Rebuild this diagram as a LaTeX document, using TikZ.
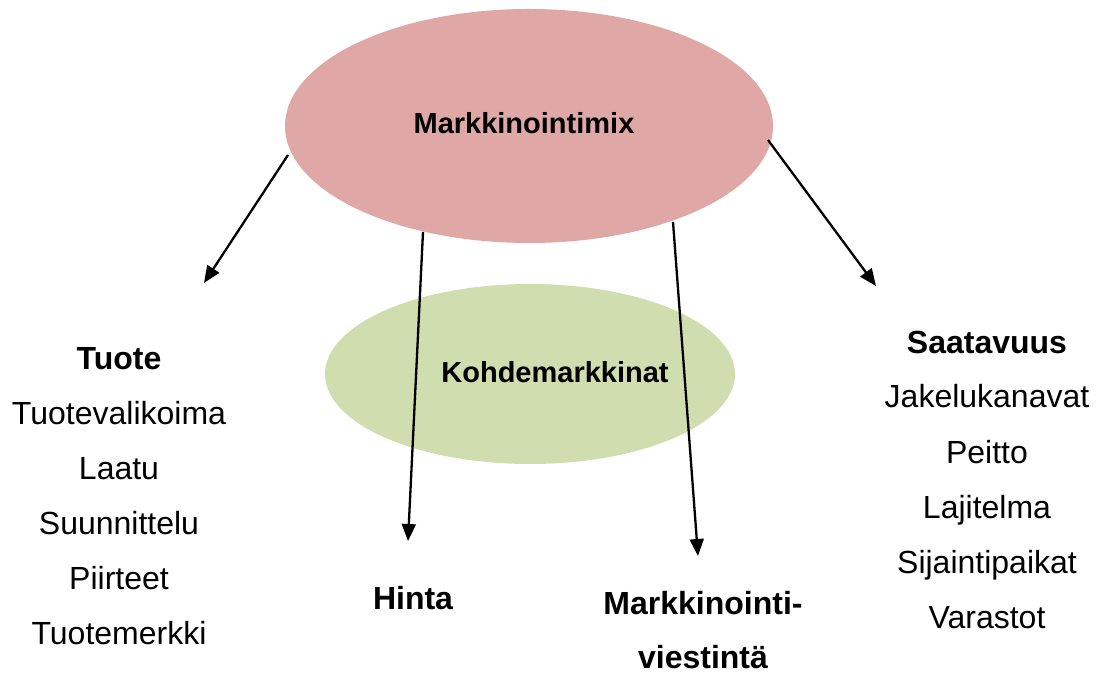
\documentclass[tikz,border=0pt]{standalone}
\usepackage{fontspec}
\setmainfont{Liberation Sans}
\usetikzlibrary{arrows.meta}
\definecolor{mixpink}{HTML}{DFA7A6}
\definecolor{targetgreen}{HTML}{CFDDAF}
\tikzset{
  lbl/.style={anchor=base, inner sep=0pt, font=\fontsize{16}{19}\selectfont},
  blbl/.style={lbl, font=\fontsize{16}{19}\selectfont\bfseries},
  elbl/.style={anchor=base, inner sep=0pt, font=\fontsize{14.5}{17}\selectfont\bfseries},
  arr/.style={line width=1.15pt, -{Triangle[length=8.5pt,width=7pt]}}
}
\begin{document}
\begin{tikzpicture}[x=0.5pt,y=-0.5pt]
\useasboundingbox (0,0) rectangle (1107,673);
% ellipses
\fill[mixpink] (529,126) ellipse [x radius=244*0.5pt, y radius=117*0.5pt];
\fill[targetgreen] (530,374) ellipse [x radius=205*0.5pt, y radius=90*0.5pt];
\node[elbl] (mix) at (524,134) {Markkinointimix};
\node[elbl] (kohde) at (555,382) {Kohdemarkkinat};
% left column
\node[blbl] (tuote) at (119,369) {Tuote};
\node[lbl] (t1) at (119,424) {Tuotevalikoima};
\node[lbl] (t2) at (119,479) {Laatu};
\node[lbl] (t3) at (119,534) {Suunnittelu};
\node[lbl] (t4) at (119,589) {Piirteet};
\node[lbl] (t5) at (119,644) {Tuotemerkki};
% right column
\node[blbl] (saat) at (987,353) {Saatavuus};
\node[lbl] (s1) at (987,408) {Jakelukanavat};
\node[lbl] (s2) at (987,463) {Peitto};
\node[lbl] (s3) at (987,518) {Lajitelma};
\node[lbl] (s4) at (987,573) {Sijaintipaikat};
\node[lbl] (s5) at (987,628) {Varastot};
% bottom
\node[blbl] (hinta) at (413,609) {Hinta};
\node[blbl] (mv1) at (703,614) {Markkinointi-};
\node[blbl] (mv2) at (703,668) {viestintä};
% arrow coordinates
\coordinate (a1s) at (288,155);
\coordinate (a1e) at (204,283);
\coordinate (a2s) at (423,232);
\coordinate (a2e) at (408,541);
\coordinate (a3s) at (673,222);
\coordinate (a3e) at (698,556);
\coordinate (a4s) at (768,140);
\coordinate (a4e) at (876,286);
\draw[arr] (a1s) -- (a1e);
\draw[arr] (a2s) -- (a2e);
\draw[arr] (a3s) -- (a3e);
\draw[arr] (a4s) -- (a4e);
\end{tikzpicture}
\end{document}
